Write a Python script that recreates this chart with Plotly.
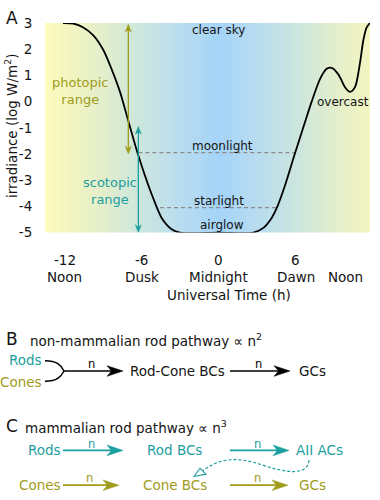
import numpy as np
import plotly.graph_objects as go

# ---------------- data (panel A) ----------------
time_h = [-12.15, -11.34, -10.56, -9.78, -9.0, -8.35, -7.70, -7.05, -6.40, -5.75, -5.10,
          -4.45, -3.67, -3.02, 0.0, 2.70, 3.48, 4.13, 4.52, 5.17, 5.95, 6.60, 7.25, 7.90,
          8.42, 8.81, 9.33, 9.85, 10.24, 10.63, 11.02, 11.28, 11.54, 11.80]
log_irr = [3.0, 2.98, 2.83, 2.53, 1.97, 1.23, 0.37, -0.74, -1.85, -2.83, -3.70,
           -4.44, -4.87, -5.0, -5.0, -5.0, -4.82, -4.44, -4.07, -3.2, -1.97, -0.98, 0.0, 0.86,
           1.25, 1.29, 1.04, 0.55, 0.37, 0.55, 1.48, 2.34, 2.83, 3.0]

moon_level = -1.95
moon_x = [-6.27, 5.95]
star_level = -4.05
star_x = [-4.58, 4.52]

photopic_x, photopic_y = -7.05, [2.95, -2.0]
scotopic_x, scotopic_y = -6.27, [-0.95, -5.0]

x_ticks = [-12, -6, 0, 6, 12]
x_tick_text = ["-12", "-6", "0", "6", "12"]
x_names = ["Noon", "Dusk", "Midnight", "Dawn", "Noon"]
x_name_pos = [-12, -6, 0, 6, 9.9]
y_ticks = [-5, -4, -3, -2, -1, 0, 1, 2, 3]
y_tick_text = ["-5", "-4", "-3", "-2", "-1", "0", "1", "2", "3"]

X_RANGE = [-13.55, 11.8]
Y_RANGE = [-5, 3]

# background gradient stops (|hour| fraction -> colour)
bg_stops = [0.0, 0.22, 0.44, 0.66, 0.88, 1.0]
bg_cols = ["#a4d4f8", "#b8dcf0", "#cbe5df", "#e2eecc", "#f5f6c0", "#fcfbbf"]

# ---------------- styles ----------------
FONT = "DejaVu Sans"
TEAL = "#1b9e9e"
OLIVE = "#9f9b1b"
TXT = "#141414"
GREY = "#9c9c9c"
DASH = "#8c8c8c"

W, H = 380, 500
fig = go.Figure()

# background gradient as heatmap
xe = np.linspace(X_RANGE[0], X_RANGE[1], 241)
xc = 0.5 * (xe[:-1] + xe[1:])
fig.add_trace(go.Heatmap(
    x=xe, y=Y_RANGE, z=[np.abs(xc).tolist()], zmin=0, zmax=abs(X_RANGE[0]),
    colorscale=[[s, c] for s, c in zip(bg_stops, bg_cols)], showscale=False,
    hoverinfo="skip", zsmooth="best"))

# dashed reference levels
for lvl, xs in [(moon_level, moon_x), (star_level, star_x)]:
    fig.add_trace(go.Scatter(x=xs, y=[lvl, lvl], mode="lines",
                             line=dict(color=DASH, width=1.3, dash="4px,3px"),
                             hoverinfo="skip", showlegend=False))

# irradiance curve
fig.add_trace(go.Scatter(x=time_h, y=log_irr, mode="lines",
                         line=dict(color="black", width=1.8, shape="spline", smoothing=0.8),
                         cliponaxis=False, hoverinfo="skip", showlegend=False))

# plot-area geometry (pixels)
AX_L, AX_R, AX_T, AX_B = 45, 370, 15.5, 232
DX = (X_RANGE[1] - X_RANGE[0]) / (AX_R - AX_L)   # hours per px
DY = (Y_RANGE[1] - Y_RANGE[0]) / (AX_B - AX_T)   # units per px

shapes = []
annotations = []


def vert_arrow(x, y0, y1, color, w=1.3, L=8, Hw=3):
    top, bot = max(y0, y1), min(y0, y1)
    shapes.append(dict(type="line", xref="x", yref="y", x0=x, x1=x,
                       y0=top - L * DY * 0.6, y1=bot + L * DY * 0.6,
                       line=dict(color=color, width=w)))
    for tip, sgn in [(top, -1), (bot, 1)]:
        path = (f"M {x},{tip} L {x - Hw * DX},{tip + sgn * L * DY} "
                f"L {x},{tip + sgn * L * DY * 0.7} L {x + Hw * DX},{tip + sgn * L * DY} Z")
        shapes.append(dict(type="path", xref="x", yref="y", path=path,
                           fillcolor=color, line=dict(color=color, width=0.5)))


vert_arrow(photopic_x, *photopic_y, OLIVE)
vert_arrow(scotopic_x, *scotopic_y, TEAL)


def ann_d(x, y, text, size=12, color=TXT, **kw):
    annotations.append(dict(x=x, y=y, xref="x", yref="y", text=text, showarrow=False,
                            xanchor="center", yanchor="middle",
                            font=dict(family=FONT, size=size, color=color), **kw))


ann_d(0, 2.72, "clear sky")
ann_d(-10.8, 0.41, "photopic<br>range", size=13, color=OLIVE)
ann_d(9.7, 0.0, "overcast")
ann_d(0.26, -1.71, "moonlight")
ann_d(-8.48, -3.43, "scotopic<br>range", size=13, color=TEAL)
ann_d(0.0, -3.78, "starlight")
ann_d(0.26, -4.70, "airglow")
ann_d(-6.37, -5.33, "mesopic", color=GREY)
ann_d(5.56, -5.33, "mesopic", color=GREY)


def px(x):
    return x / W


def py(y):
    return 1 - y / H


for xv, tt in zip(x_ticks, x_tick_text):
    annotations.append(dict(x=xv, y=py(260), xref="x", yref="paper", text=tt, showarrow=False,
                            xanchor="center", yanchor="middle",
                            xshift=-2 if xv == 12 else 0,
                            font=dict(family=FONT, size=13.5, color=TXT)))
for xv, tt in zip(x_name_pos, x_names):
    annotations.append(dict(x=xv, y=py(278), xref="x", yref="paper", text=tt, showarrow=False,
                            xanchor="center", yanchor="middle",
                            font=dict(family=FONT, size=13.5, color=TXT)))
annotations.append(dict(x=0.8, y=py(297), xref="x", yref="paper", text="Universal Time (h)",
                        showarrow=False, xanchor="center", yanchor="middle",
                        font=dict(family=FONT, size=13.5, color=TXT)))
annotations.append(dict(x=px(11), y=py(122), xref="paper", yref="paper",
                        text="irradiance (log W/m<sup>2</sup>)", textangle=-90, showarrow=False,
                        xanchor="center", yanchor="middle",
                        font=dict(family=FONT, size=13.5, color=TXT)))


def ann_p(x, y, text, size=13.5, color=TXT, xanchor="left", **kw):
    annotations.append(dict(x=px(x), y=py(y), xref="paper", yref="paper", text=text,
                            showarrow=False, xanchor=xanchor, yanchor="middle",
                            font=dict(family=FONT, size=size, color=color), **kw))


def pth(pts):
    out = []
    for cmd, coords in pts:
        out.append(cmd + " " + " ".join(f"{px(a):.5f},{py(b):.5f}" for a, b in coords))
    return " ".join(out)


def harrow(x0, x1, y, color, w=1.7, L=16, Hh=5.5, notch=4.5, label=True):
    shapes.append(dict(type="line", xref="paper", yref="paper",
                       x0=px(x0), x1=px(x1 - L + notch + 1), y0=py(y), y1=py(y),
                       line=dict(color=color, width=w)))
    path = pth([("M", [(x1, y)]), ("L", [(x1 - L, y - Hh)]), ("L", [(x1 - L + notch, y)]),
                ("L", [(x1 - L, y + Hh)])]) + " Z"
    shapes.append(dict(type="path", xref="paper", yref="paper", path=path,
                       fillcolor=color, line=dict(color=color, width=0.5)))
    if label:
        ann_p((x0 + x1) / 2 - 2, y - 7, "n", size=11.5, color=color, xanchor="center")


# panel letters
ann_p(4, 10, "A", size=17)
ann_p(4, 342, "B", size=17)
ann_p(4, 432, "C", size=17)

# ---------------- panel B ----------------
ann_p(28, 343, "non-mammalian rod pathway ∝ n<sup>2</sup>")
ann_p(44, 364, "Rods", color=TEAL, xanchor="right")
ann_p(44, 386, "Cones", color=OLIVE, xanchor="right")
shapes.append(dict(type="path", xref="paper", yref="paper",
                   path=pth([("M", [(45, 364.5)]), ("C", [(57, 364.5), (61, 369), (64, 375)])]),
                   line=dict(color="black", width=1.5)))
shapes.append(dict(type="path", xref="paper", yref="paper",
                   path=pth([("M", [(45, 385.5)]), ("C", [(57, 385.5), (61, 381), (64, 375)])]),
                   line=dict(color="black", width=1.5)))
harrow(63, 123, 375, "black")
ann_p(128, 375, "Rod-Cone BCs")
harrow(230, 290, 375, "black")
ann_p(297, 375, "GCs")

# ---------------- panel C ----------------
ann_p(23, 433, "mammalian rod pathway ∝ n<sup>3</sup>")
ann_p(26, 457, "Rods", color=TEAL)
harrow(63, 123, 457, TEAL)
ann_p(145, 457, "Rod BCs", color=TEAL)
harrow(230, 289, 457, TEAL)
ann_p(294, 457, "AII ACs", color=TEAL)
ann_p(17, 493, "Cones", color=OLIVE)
harrow(63, 119, 493, OLIVE)
ann_p(141, 493, "Cone BCs", color=OLIVE)
harrow(230, 288, 493, OLIVE)
ann_p(297, 493, "GCs", color=OLIVE)
# dashed curved AII -> Cone BC connection
shapes.append(dict(type="path", xref="paper", yref="paper",
                   path=pth([("M", [(309, 467)]), ("C", [(308, 484), (285, 480), (262, 472)]),
                             ("C", [(240, 464), (220, 464), (203, 478)])]),
                   line=dict(color=TEAL, width=1.2, dash="3px,2px")))
shapes.append(dict(type="path", xref="paper", yref="paper",
                   path=pth([("M", [(194, 484)]), ("L", [(200, 475.5)]), ("L", [(206, 481.5)])]) + " Z",
                   fillcolor="white", line=dict(color=TEAL, width=1.1)))

fig.update_layout(
    width=W, height=H, margin=dict(l=0, r=0, t=0, b=0),
    paper_bgcolor="white", plot_bgcolor="rgba(0,0,0,0)", showlegend=False,
    xaxis=dict(domain=[AX_L / W, AX_R / W], range=X_RANGE, showgrid=False, zeroline=False,
               showticklabels=False, ticks="", showline=False, fixedrange=True),
    yaxis=dict(domain=[1 - AX_B / H, 1 - AX_T / H], range=Y_RANGE, showgrid=False,
               zeroline=False, showline=False, tickvals=y_ticks, ticktext=y_tick_text,
               ticks="outside", ticklen=9, tickcolor="rgba(0,0,0,0)",
               tickfont=dict(family=FONT, size=13.5, color=TXT), fixedrange=True),
    shapes=shapes, annotations=annotations,
)

fig.write_html("out.html", config={"displayModeBar": False},
               post_script="document.body.style.margin='0';")
